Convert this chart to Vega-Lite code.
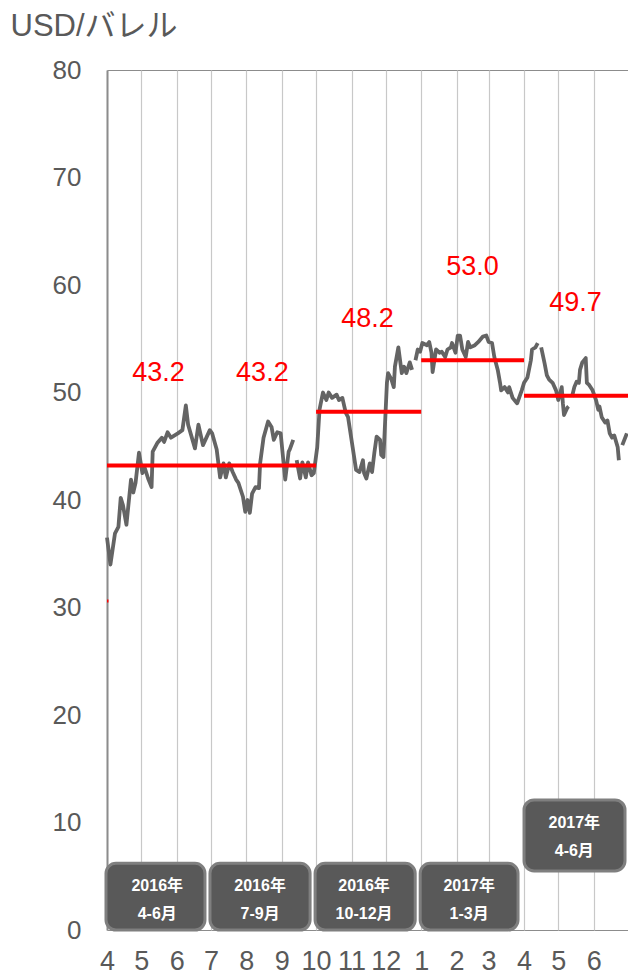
{
  "$schema": "https://vega.github.io/schema/vega-lite/v6.json",
  "width": 521,
  "height": 860,
  "autosize": {"type": "none"},
  "padding": {"left": 107, "top": 70, "right": 0, "bottom": 47},
  "background": "white",
  "config": {
    "view": {"stroke": "#8c8c8c", "strokeWidth": 1},
    "font": "Liberation Sans, 'Noto Sans CJK JP', sans-serif"
  },
  "datasets": {
    "price": [
      {"date": "2016-04-01", "price": 36.5}, {"date": "2016-04-04", "price": 34.0}, {"date": "2016-04-08", "price": 36.9},
      {"date": "2016-04-11", "price": 37.5}, {"date": "2016-04-13", "price": 40.2}, {"date": "2016-04-15", "price": 39.5},
      {"date": "2016-04-18", "price": 37.7}, {"date": "2016-04-22", "price": 41.9}, {"date": "2016-04-24", "price": 40.7},
      {"date": "2016-04-26", "price": 41.6}, {"date": "2016-04-29", "price": 44.4}, {"date": "2016-05-02", "price": 42.5},
      {"date": "2016-05-04", "price": 43.0}, {"date": "2016-05-07", "price": 42.0}, {"date": "2016-05-10", "price": 41.2},
      {"date": "2016-05-11", "price": 44.5}, {"date": "2016-05-15", "price": 45.3}, {"date": "2016-05-19", "price": 45.8},
      {"date": "2016-05-21", "price": 45.4}, {"date": "2016-05-24", "price": 46.3}, {"date": "2016-05-27", "price": 45.8},
      {"date": "2016-06-02", "price": 46.2}, {"date": "2016-06-06", "price": 46.5}, {"date": "2016-06-09", "price": 48.8},
      {"date": "2016-06-11", "price": 47.0}, {"date": "2016-06-17", "price": 44.8}, {"date": "2016-06-20", "price": 47.0},
      {"date": "2016-06-24", "price": 45.1}, {"date": "2016-06-27", "price": 45.8}, {"date": "2016-06-30", "price": 46.5},
      {"date": "2016-07-02", "price": 46.2}, {"date": "2016-07-06", "price": 44.7}, {"date": "2016-07-09", "price": 42.1},
      {"date": "2016-07-12", "price": 43.4}, {"date": "2016-07-14", "price": 42.1}, {"date": "2016-07-17", "price": 43.4},
      {"date": "2016-07-20", "price": 42.6}, {"date": "2016-07-23", "price": 41.9}, {"date": "2016-07-25", "price": 41.6},
      {"date": "2016-07-29", "price": 40.3}, {"date": "2016-07-31", "price": 38.9}, {"date": "2016-08-02", "price": 40.0},
      {"date": "2016-08-04", "price": 38.8}, {"date": "2016-08-06", "price": 40.6}, {"date": "2016-08-09", "price": 41.2},
      {"date": "2016-08-12", "price": 41.1}, {"date": "2016-08-13", "price": 43.4}, {"date": "2016-08-16", "price": 45.8},
      {"date": "2016-08-20", "price": 47.3}, {"date": "2016-08-23", "price": 46.8}, {"date": "2016-08-25", "price": 45.6},
      {"date": "2016-08-28", "price": 46.3}, {"date": "2016-08-31", "price": 46.2}, {"date": "2016-09-04", "price": 41.9},
      {"date": "2016-09-07", "price": 44.5}, {"date": "2016-09-08", "price": 44.7}, {"date": "2016-09-11", "price": 45.6},
      {"date": "2016-09-12", "price": null},
      {"date": "2016-09-14", "price": 43.7}, {"date": "2016-09-17", "price": 42.0}, {"date": "2016-09-19", "price": 43.5},
      {"date": "2016-09-22", "price": 42.1}, {"date": "2016-09-24", "price": 43.5}, {"date": "2016-09-27", "price": 42.3},
      {"date": "2016-09-29", "price": 42.5}, {"date": "2016-10-02", "price": 44.9}, {"date": "2016-10-04", "price": 48.4},
      {"date": "2016-10-07", "price": 50.0}, {"date": "2016-10-10", "price": 49.3}, {"date": "2016-10-12", "price": 50.0},
      {"date": "2016-10-15", "price": 49.5}, {"date": "2016-10-19", "price": 49.8}, {"date": "2016-10-21", "price": 49.3},
      {"date": "2016-10-24", "price": 49.5}, {"date": "2016-10-27", "price": 48.1}, {"date": "2016-10-29", "price": 47.7},
      {"date": "2016-11-02", "price": 44.9}, {"date": "2016-11-05", "price": 42.8}, {"date": "2016-11-08", "price": 42.6},
      {"date": "2016-11-11", "price": 43.7}, {"date": "2016-11-12", "price": 42.5}, {"date": "2016-11-14", "price": 42.0},
      {"date": "2016-11-17", "price": 43.4}, {"date": "2016-11-19", "price": 42.6}, {"date": "2016-11-21", "price": 44.4},
      {"date": "2016-11-23", "price": 45.9}, {"date": "2016-11-26", "price": 45.6}, {"date": "2016-11-27", "price": 44.2},
      {"date": "2016-11-29", "price": 44.0}, {"date": "2016-12-02", "price": 50.9}, {"date": "2016-12-03", "price": 51.8},
      {"date": "2016-12-06", "price": 51.2}, {"date": "2016-12-08", "price": 50.5}, {"date": "2016-12-09", "price": 52.4},
      {"date": "2016-12-12", "price": 54.2}, {"date": "2016-12-15", "price": 51.8}, {"date": "2016-12-17", "price": 52.4},
      {"date": "2016-12-19", "price": 51.8}, {"date": "2016-12-22", "price": 52.8}, {"date": "2016-12-24", "price": 52.1},
      {"date": "2016-12-25", "price": null},
      {"date": "2016-12-27", "price": 53.0}, {"date": "2016-12-29", "price": 54.0}, {"date": "2016-12-31", "price": 53.8},
      {"date": "2017-01-02", "price": 54.6}, {"date": "2017-01-06", "price": 54.4}, {"date": "2017-01-08", "price": 54.7},
      {"date": "2017-01-10", "price": 53.7}, {"date": "2017-01-11", "price": 51.9}, {"date": "2017-01-14", "price": 54.0},
      {"date": "2017-01-17", "price": 53.7}, {"date": "2017-01-19", "price": 53.8}, {"date": "2017-01-22", "price": 53.3},
      {"date": "2017-01-24", "price": 54.0}, {"date": "2017-01-27", "price": 54.2}, {"date": "2017-01-28", "price": 54.6},
      {"date": "2017-01-31", "price": 53.7}, {"date": "2017-02-02", "price": 55.3}, {"date": "2017-02-04", "price": 55.3},
      {"date": "2017-02-06", "price": 54.0}, {"date": "2017-02-09", "price": 53.3}, {"date": "2017-02-11", "price": 54.7},
      {"date": "2017-02-13", "price": 54.2}, {"date": "2017-02-17", "price": 54.4}, {"date": "2017-02-20", "price": 54.7},
      {"date": "2017-02-24", "price": 55.2}, {"date": "2017-02-27", "price": 55.3}, {"date": "2017-03-01", "price": 54.7},
      {"date": "2017-03-04", "price": 54.6}, {"date": "2017-03-06", "price": 53.3}, {"date": "2017-03-09", "price": 52.1},
      {"date": "2017-03-11", "price": 50.9}, {"date": "2017-03-12", "price": 50.2}, {"date": "2017-03-15", "price": 50.5},
      {"date": "2017-03-18", "price": 50.0}, {"date": "2017-03-19", "price": 50.5}, {"date": "2017-03-22", "price": 49.5},
      {"date": "2017-03-25", "price": 49.1}, {"date": "2017-03-26", "price": 49.0}, {"date": "2017-03-30", "price": 50.2},
      {"date": "2017-04-01", "price": 50.9}, {"date": "2017-04-04", "price": 51.4}, {"date": "2017-04-07", "price": 53.0},
      {"date": "2017-04-08", "price": 54.0}, {"date": "2017-04-11", "price": 54.2}, {"date": "2017-04-13", "price": 54.6},
      {"date": "2017-04-14", "price": null},
      {"date": "2017-04-16", "price": 54.2}, {"date": "2017-04-17", "price": 53.7}, {"date": "2017-04-19", "price": 52.7},
      {"date": "2017-04-21", "price": 51.6}, {"date": "2017-04-23", "price": 51.2}, {"date": "2017-04-26", "price": 50.9},
      {"date": "2017-04-29", "price": 50.2}, {"date": "2017-05-01", "price": 49.3}, {"date": "2017-05-04", "price": 50.5},
      {"date": "2017-05-05", "price": 49.0}, {"date": "2017-05-06", "price": 47.9}, {"date": "2017-05-09", "price": 48.6},
      {"date": "2017-05-10", "price": 48.7},
      {"date": "2017-05-11", "price": null},
      {"date": "2017-05-13", "price": 49.6}, {"date": "2017-05-15", "price": 50.5}, {"date": "2017-05-17", "price": 51.0},
      {"date": "2017-05-19", "price": 50.9}, {"date": "2017-05-20", "price": 52.1}, {"date": "2017-05-22", "price": 52.8},
      {"date": "2017-05-25", "price": 53.2}, {"date": "2017-05-26", "price": 50.9}, {"date": "2017-05-28", "price": 50.7},
      {"date": "2017-05-31", "price": 50.2}, {"date": "2017-06-03", "price": 49.3}, {"date": "2017-06-05", "price": 48.4},
      {"date": "2017-06-06", "price": 48.7}, {"date": "2017-06-08", "price": 47.7}, {"date": "2017-06-11", "price": 47.2},
      {"date": "2017-06-13", "price": 47.4}, {"date": "2017-06-15", "price": 46.2}, {"date": "2017-06-17", "price": 45.8},
      {"date": "2017-06-19", "price": 46.0}, {"date": "2017-06-22", "price": 44.9}, {"date": "2017-06-23", "price": 43.7},
      {"date": "2017-06-24", "price": null},
      {"date": "2017-06-26", "price": 45.1}, {"date": "2017-06-30", "price": 46.2}
    ],
    "avg": [
      {"quarter": "2016Q2", "start": "2016-04-01", "end": "2016-07-01", "mid": "2016-05-16", "avg": 43.2},
      {"quarter": "2016Q3", "start": "2016-07-01", "end": "2016-10-01", "mid": "2016-08-15", "avg": 43.2},
      {"quarter": "2016Q4", "start": "2016-10-01", "end": "2017-01-01", "mid": "2016-11-15", "avg": 48.2},
      {"quarter": "2017Q1", "start": "2017-01-01", "end": "2017-04-01", "mid": "2017-02-15", "avg": 53.0},
      {"quarter": "2017Q2", "start": "2017-04-01", "end": "2017-07-01", "mid": "2017-05-16", "avg": 49.7}
    ],
    "boxes": [
      {"start": "2016-04-01", "end": "2016-07-01", "mid": "2016-05-15", "label": "2016年\n4-6月"},
      {"start": "2016-07-01", "end": "2016-10-01", "mid": "2016-08-13", "label": "2016年\n7-9月"},
      {"start": "2016-10-01", "end": "2017-01-01", "mid": "2016-11-12", "label": "2016年\n10-12月"},
      {"start": "2017-01-01", "end": "2017-04-01", "mid": "2017-02-12", "label": "2017年\n1-3月"}
    ],
    "box2017q2": [
      {"start": "2017-04-01", "end": "2017-07-01", "mid": "2017-05-15", "label": "2017年\n4-6月"}
    ]
  },
  "layer": [
    {
      "data": {"name": "price"},
      "mark": {"type": "line", "color": "#646464", "strokeWidth": 3.8, "strokeJoin": "round"},
      "encoding": {
        "x": {
          "field": "date", "type": "temporal",
          "scale": {"type": "utc", "domain": [1459468800000, 1498867200000]},
          "axis": {
            "title": null,
            "values": [1459468800000, 1462060800000, 1464739200000, 1467331200000, 1470009600000, 1472688000000, 1475280000000, 1477958400000, 1480550400000, 1483228800000, 1485907200000, 1488326400000, 1491004800000, 1493596800000, 1496275200000],
            "tickCount": 30,
            "format": "%-m",
            "labelFontSize": 27,
            "labelColor": "#595959",
            "labelPadding": 18,
            "labelFlush": false,
            "labelOverlap": false,
            "labelBound": false,
            "ticks": false,
            "domain": false,
            "grid": true,
            "gridColor": "#c8c8c8",
            "gridWidth": 1.2
          }
        },
        "y": {
          "field": "price", "type": "quantitative",
          "scale": {"domain": [0, 80], "nice": false, "zero": true},
          "axis": {
            "title": "USD/バレル",
            "titleAngle": 0,
            "titleAlign": "left",
            "titleBaseline": "alphabetic",
            "titleX": -97,
            "titleY": -35,
            "titleFontSize": 31,
            "titleFontWeight": "normal",
            "titleColor": "#595959",
            "values": [0, 10, 20, 30, 40, 50, 60, 70, 80],
            "tickCount": 30,
            "grid": false,
            "ticks": false,
            "domain": true,
            "domainColor": "#8c8c8c",
            "domainWidth": 2,
            "labelFontSize": 26,
            "labelColor": "#595959",
            "labelPadding": 26
          }
        }
      }
    },
    {
      "data": {"name": "avg"},
      "mark": {"type": "rule", "color": "#ff0000", "strokeWidth": 4},
      "encoding": {
        "x": {"field": "start", "type": "temporal"},
        "x2": {"field": "end"},
        "y": {"field": "avg", "type": "quantitative"}
      }
    },
    {
      "data": {"values": [{"quarter": "2016Q1", "start": "2016-01-01", "end": "2016-04-01", "avg": 30.6}]},
      "mark": {"type": "rule", "color": "#ff0000", "strokeWidth": 3, "strokeCap": "square", "clip": true},
      "encoding": {
        "x": {"field": "start", "type": "temporal"},
        "x2": {"field": "end"},
        "y": {"field": "avg", "type": "quantitative"}
      }
    },
    {
      "mark": {"type": "rule", "color": "#404040", "strokeWidth": 2, "strokeDash": [2, 2]},
      "encoding": {
        "x": {"datum": 1483228800000, "type": "temporal"}
      }
    },
    {
      "data": {"name": "avg"},
      "mark": {"type": "text", "color": "#ff0000", "fontSize": 27, "dy": -93, "baseline": "middle", "align": "center"},
      "encoding": {
        "x": {"field": "mid", "type": "temporal"},
        "y": {"field": "avg", "type": "quantitative"},
        "text": {"field": "avg", "type": "quantitative", "format": ".1f"}
      }
    },
    {
      "data": {"name": "boxes"},
      "mark": {"type": "rect", "color": "#595959", "stroke": "#7f7f7f", "strokeWidth": 3, "cornerRadius": 10, "xOffset": -1, "x2Offset": -6},
      "encoding": {
        "x": {"field": "start", "type": "temporal"},
        "x2": {"field": "end"},
        "y": {"datum": 0, "type": "quantitative"},
        "y2": {"datum": 6.2}
      }
    },
    {
      "data": {"name": "boxes"},
      "mark": {"type": "text", "color": "white", "fontSize": 16, "fontWeight": "bold", "lineBreak": "\n", "lineHeight": 28, "baseline": "middle", "align": "center"},
      "encoding": {
        "x": {"field": "mid", "type": "temporal"},
        "y": {"datum": 4.1, "type": "quantitative"},
        "text": {"field": "label"}
      }
    },
    {
      "data": {"name": "box2017q2"},
      "mark": {"type": "rect", "color": "#595959", "stroke": "#7f7f7f", "strokeWidth": 3, "cornerRadius": 10, "xOffset": 0, "x2Offset": -3},
      "encoding": {
        "x": {"field": "start", "type": "temporal"},
        "x2": {"field": "end"},
        "y": {"datum": 5.5, "type": "quantitative"},
        "y2": {"datum": 12.1}
      }
    },
    {
      "data": {"name": "box2017q2"},
      "mark": {"type": "text", "color": "white", "fontSize": 16, "fontWeight": "bold", "lineBreak": "\n", "lineHeight": 28, "baseline": "middle", "align": "center"},
      "encoding": {
        "x": {"field": "mid", "type": "temporal"},
        "y": {"datum": 10.0, "type": "quantitative"},
        "text": {"field": "label"}
      }
    }
  ]
}
